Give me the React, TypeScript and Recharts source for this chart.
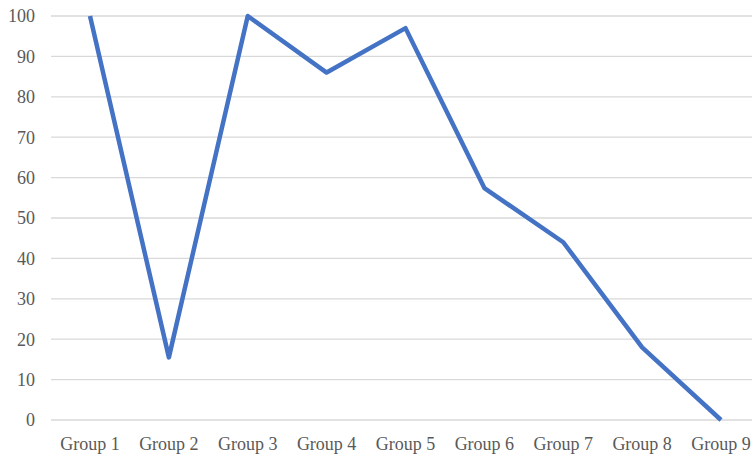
import React from "react";
import { LineChart, Line, XAxis, YAxis, CartesianGrid } from "recharts";

const groups = [
  "Group 1",
  "Group 2",
  "Group 3",
  "Group 4",
  "Group 5",
  "Group 6",
  "Group 7",
  "Group 8",
  "Group 9",
];
const seriesValues = [100, 15.5, 100, 86, 97, 57.4, 44, 18, 0];
const yTicks = [0, 10, 20, 30, 40, 50, 60, 70, 80, 90, 100];

const data = groups.map((g, i) => ({ name: g, value: seriesValues[i] }));

const tickStyle = {
  fill: "#595959",
  fontSize: 18,
  fontFamily: '"Liberation Serif", "Times New Roman", serif',
};

export default function App() {
  return (
    <div style={{ position: "absolute", left: 0, top: 0 }}>
      <LineChart
        width={760}
        height={455}
        data={data}
        margin={{ top: 16, right: 0, bottom: 0, left: 0 }}
      >
        <CartesianGrid vertical={false} stroke="#d9d9d9" strokeWidth={1.3} />
        <XAxis
          dataKey="name"
          axisLine={false}
          tickLine={false}
          tick={tickStyle}
          tickSize={6}
          tickMargin={11}
          height={35}
          interval={0}
          padding={{ left: 39, right: 39 }}
        />
        <YAxis
          domain={[0, 100]}
          ticks={yTicks}
          axisLine={false}
          tickLine={false}
          tick={tickStyle}
          tickSize={6}
          tickMargin={10}
          width={51}
        />
        <Line
          type="linear"
          dataKey="value"
          stroke="#4472C4"
          strokeWidth={4.5}
          strokeLinejoin="round"
          dot={false}
          activeDot={false}
          isAnimationActive={false}
        />
      </LineChart>
    </div>
  );
}
